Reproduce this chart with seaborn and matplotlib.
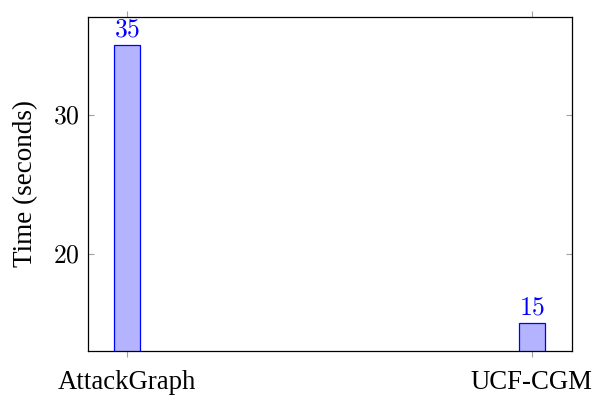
import matplotlib
matplotlib.use("Agg")
import matplotlib.pyplot as plt
import seaborn as sns
import pandas as pd

categories = ["AttackGraph", "UCF-CGM"]
times = [35, 15]
y_ticks = [20, 30]

sns.set_theme(style="white")
plt.rcParams["font.family"] = ["Liberation Serif", "DejaVu Serif"]
plt.rcParams["mathtext.fontset"] = "cm"
plt.rcParams["text.color"] = "black"
plt.rcParams["axes.labelcolor"] = "black"
plt.rcParams["xtick.labelcolor"] = "black"
plt.rcParams["ytick.labelcolor"] = "black"

df = pd.DataFrame({"method": categories, "time": times})

fig = plt.figure(figsize=(5.93, 3.97), dpi=100)
ax = fig.add_axes([0.1484, 0.1159, 0.8162, 0.8413])

sns.barplot(data=df, x="method", y="time", width=0.064, color="#b3b3ff",
            saturation=1, edgecolor="blue", linewidth=0.9, ax=ax)

ax.set_xlim(-0.096, 1.099)
ax.set_ylim(13.0, 37.05)
ax.set_yticks(y_ticks)
ax.set_yticklabels([f"${v}$" for v in y_ticks], fontsize=18.5)
ax.set_xticks(range(len(categories)))
ax.set_xticklabels(categories, fontsize=19.3)
ax.set_xlabel("")
ax.set_ylabel("Time (seconds)", fontsize=19.5, labelpad=11)

for i, v in enumerate(times):
    ax.annotate(f"${v}$", xy=(i, v), xytext=(0, 3), textcoords="offset points",
                ha="center", va="bottom", color="blue", fontsize=18.5)

ax.tick_params(axis="x", direction="out", length=4.5, width=0.8, color="#a0a0a0",
               top=True, bottom=True, pad=9)
ax.tick_params(axis="y", direction="in", length=4.5, width=0.8, color="#a0a0a0",
               left=True, right=True, pad=6)

for s in ax.spines.values():
    s.set_color("black")
    s.set_linewidth(0.9)

fig.savefig("out.png", dpi=100)
